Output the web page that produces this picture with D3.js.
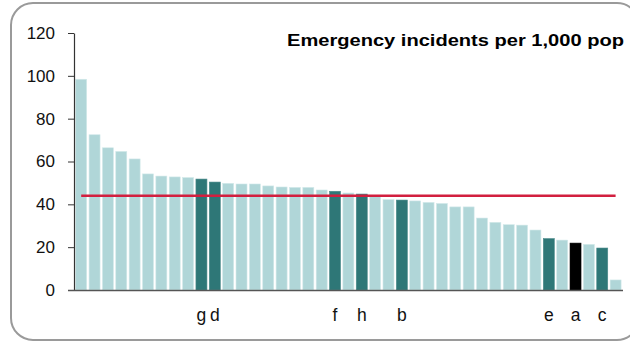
<!DOCTYPE html>
<html>
<head>
<meta charset="utf-8">
<script src="https://cdn.jsdelivr.net/npm/d3@7"></script>
<style>
  html, body { margin: 0; padding: 0; background: #fff; }
  svg { display: block; font-family: "Liberation Sans", Arial, sans-serif; }
</style>
</head>
<body>
<svg id="chart" width="630" height="342"></svg>
<script>
// ---- data ----
const labels = ["", "", "", "", "", "", "", "", "", "g", "d", "", "", "", "", "", "", "", "", "f",
                "", "h", "", "", "b", "", "", "", "", "", "", "", "", "", "", "e", "", "a", "", "c", ""];
const values = [98.4, 72.5, 66.4, 64.7, 61.2, 54.2, 53.2, 52.8, 52.5, 51.8, 50.4, 49.8, 49.5, 49.5, 48.6,
                48.1, 47.9, 47.9, 46.7, 46.1, 45.3, 44.8, 44.2, 42.2, 42.0, 41.6, 40.9, 40.4, 38.8, 38.8,
                33.6, 31.6, 30.5, 30.3, 28.0, 24.0, 23.3, 21.9, 21.3, 19.6, 4.7];
const highlight = ["", "", "", "", "", "", "", "", "", "dark", "dark", "", "", "", "", "", "", "", "", "dark",
                   "", "dark", "", "", "dark", "", "", "", "", "", "", "", "", "", "", "dark", "", "black", "", "dark", ""];
const average = 44;
const yTicks = [0, 20, 40, 60, 80, 100, 120];
const title = "Emergency incidents per 1,000 pop";

// ---- chart ----
const svg = d3.select("#chart");
const colors = { "": "#b0d6d8", dark: "#2e7777", black: "#000000" };

// frame
svg.append("rect")
  .attr("x", 11).attr("y", 3).attr("width", 628).attr("height", 337)
  .attr("rx", 22).attr("ry", 22)
  .attr("fill", "#fff").attr("stroke", "#9a9a9a").attr("stroke-width", 2);

const idx = d3.range(values.length);
const x = d3.scaleBand().domain(idx).range([74, 622.8]).paddingInner(0.177).paddingOuter(0.127);
const y = d3.scaleLinear().domain([0, 120]).range([290, 33]);

// bars
svg.append("g").selectAll("rect").data(idx).join("rect")
  .attr("x", i => x(i))
  .attr("y", i => y(values[i]))
  .attr("width", x.bandwidth())
  .attr("height", i => y(0) - y(values[i]))
  .attr("fill", i => colors[highlight[i]])
  .attr("stroke", i => highlight[i] === "" ? "#d3e9ea" : (highlight[i] === "dark" ? "#4a8a8a" : "#000"))
  .attr("stroke-width", 0.6);

// average line
svg.append("line")
  .attr("x1", x(0) + x.bandwidth() / 2)
  .attr("x2", x(values.length - 1) + x.bandwidth() / 2)
  .attr("y1", y(average)).attr("y2", y(average))
  .attr("stroke", "#d21f3f").attr("stroke-width", 2.5);

// y axis
const yAxis = svg.append("g").attr("transform", "translate(74,0)")
  .call(d3.axisLeft(y).tickValues(yTicks).tickSize(6).tickPadding(13).tickSizeOuter(0));
yAxis.select(".domain").attr("stroke", "#333").attr("stroke-width", 1.2);
yAxis.selectAll(".tick line").attr("stroke", "#333");
yAxis.selectAll(".tick text").attr("font-size", 17).attr("fill", "#111")
  .attr("font-family", "'Liberation Sans', Arial, sans-serif");

// x axis
const xAxis = svg.append("g").attr("transform", "translate(0,290)")
  .call(d3.axisBottom(x).tickFormat(i => labels[i]).tickSize(0).tickPadding(19));
xAxis.select(".domain").attr("d", "M68,0.5H623").attr("stroke", "#555").attr("stroke-width", 1.5);
xAxis.selectAll(".tick text").attr("font-size", 17.5).attr("fill", "#111")
  .attr("font-family", "'Liberation Sans', Arial, sans-serif");

// title
svg.append("text")
  .attr("x", 287).attr("y", 46)
  .attr("text-anchor", "start")
  .attr("font-size", 16.5).attr("font-weight", "bold").attr("fill", "#000")
  .attr("textLength", 337).attr("lengthAdjust", "spacingAndGlyphs")
  .text(title);
</script>
</body>
</html>
